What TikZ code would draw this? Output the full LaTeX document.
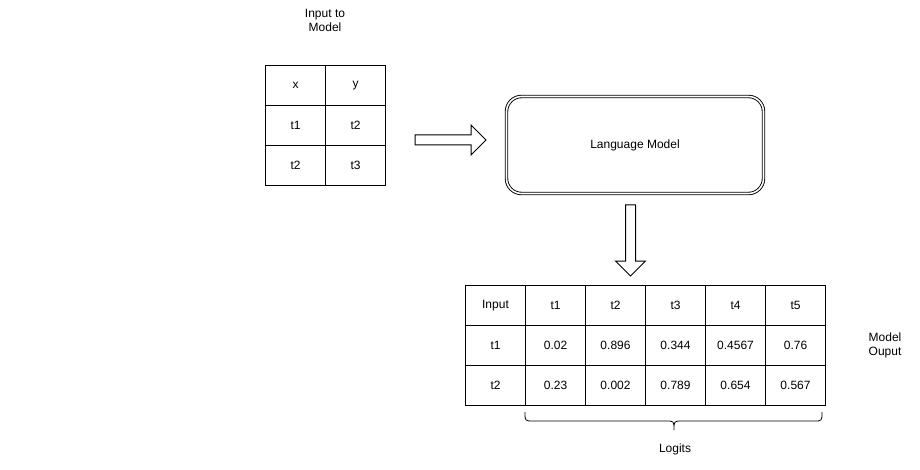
\documentclass[tikz,border=0pt]{standalone}
\usepackage{fontspec}
\setmainfont{Liberation Sans}
\begin{document}
\begin{tikzpicture}[x=1pt,y=-1pt,
  cell/.style={draw=black,line width=1pt,minimum width=60pt,minimum height=40pt,inner sep=0pt,anchor=north west,font=\fontsize{12}{14}\selectfont},
  lbl/.style={align=center,font=\fontsize{12}{14}\selectfont,inner sep=0pt},
  blockarrow/.style={draw=black,line width=1pt,fill=white}]
\useasboundingbox (0,0) rectangle (920,470);
% input table
\node[lbl] (title) at (325,20) {Input to\\Model};
\foreach \r/\a/\b in {0/x/y,1/t1/t2,2/t2/t3}{
  \node[cell] (in-\r-0) at (265,65+40*\r) {\a};
  \node[cell] (in-\r-1) at (325,65+40*\r) {\b};
}
% right block arrow
\draw[blockarrow] (415,135) -- (471,135) -- (471,125) -- (486,140) -- (471,155) -- (471,145) -- (415,145) -- cycle;
% language model
\node[draw=black,line width=0.9pt,double,double distance=1.6pt,rounded corners=15pt,minimum width=257pt,minimum height=97pt,font=\fontsize{12}{14}\selectfont] (lm) at (635,145) {Language Model};
% down block arrow
\draw[blockarrow] (625.5,205) -- (635.5,205) -- (635.5,261) -- (645.5,261) -- (630.5,276) -- (615.5,261) -- (625.5,261) -- cycle;
% output table
\foreach \r/\a/\b/\c/\d/\e/\f in {0/Input/t1/t2/t3/t4/t5,1/t1/0.02/0.896/0.344/0.4567/0.76,2/t2/0.23/0.002/0.789/0.654/0.567}{
  \node[cell] (out-\r-0) at (465,285+40*\r) {\a};
  \node[cell] (out-\r-1) at (525,285+40*\r) {\b};
  \node[cell] (out-\r-2) at (585,285+40*\r) {\c};
  \node[cell] (out-\r-3) at (645,285+40*\r) {\d};
  \node[cell] (out-\r-4) at (705,285+40*\r) {\e};
  \node[cell] (out-\r-5) at (765,285+40*\r) {\f};
}
\node[lbl] (mo) at (885,345) {Model\\Ouput};
% brace
\coordinate (bl) at (525,412);
\coordinate (br) at (822,412);
\coordinate (btip) at (674,430);
\draw[line width=0.8pt] (bl) .. controls (525,421) .. (533,421) -- (666,421)
  .. controls (674,421) .. (btip) .. controls (674,421) .. (682,421) -- (814,421)
  .. controls (822,421) .. (br);
\node[lbl] (logits) at (675,449) {Logits};
\end{tikzpicture}
\end{document}
